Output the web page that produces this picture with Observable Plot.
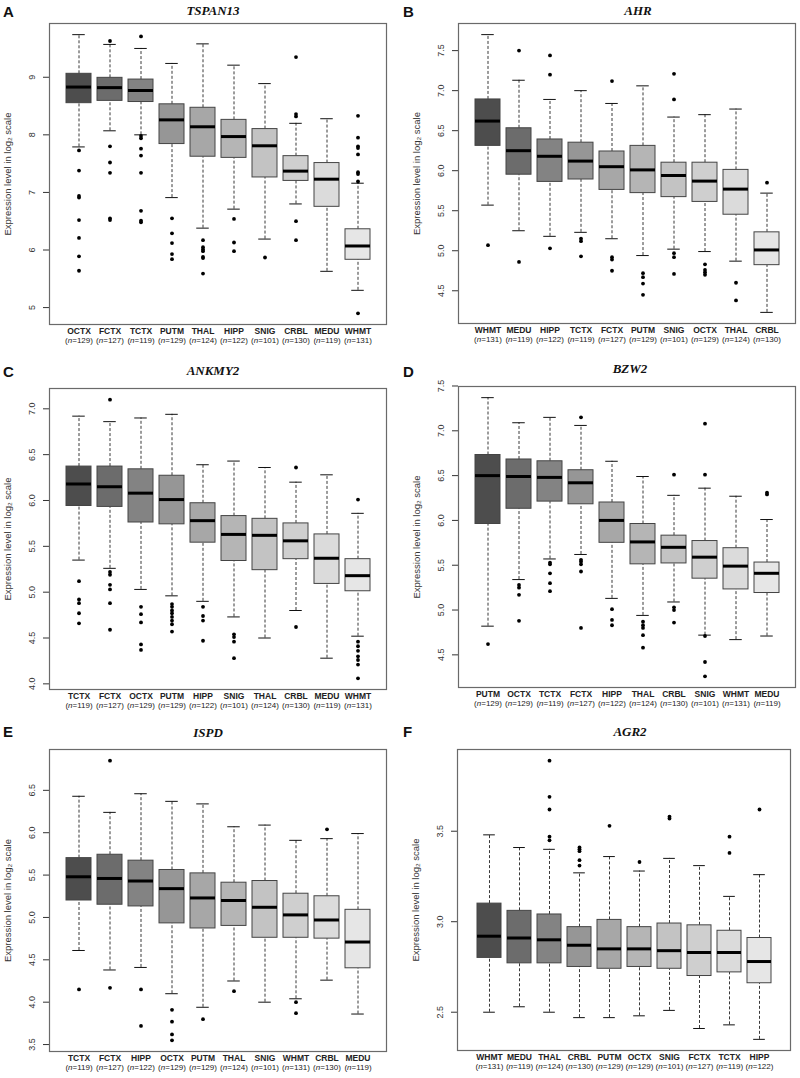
<!DOCTYPE html>
<html>
<head>
<meta charset="utf-8">
<script src="https://cdn.jsdelivr.net/npm/d3@7"></script>
<script src="https://cdn.jsdelivr.net/npm/@observablehq/plot@0.6"></script>
<style>
  html, body { margin: 0; padding: 0; background: #fff; }
  #page { position: relative; width: 800px; height: 1078px; overflow: hidden; font-family: "Liberation Sans", Arial, sans-serif; }
  .panel { position: absolute; }
  .panel svg { position: absolute; left: 0; top: 0; overflow: visible; }
  .letter { position: absolute; font: bold 15px "Liberation Sans", Arial, sans-serif; color: #111; line-height: 1; }
  .title { position: absolute; transform: translateX(-50%); font: italic bold 13px "Liberation Serif", "Times New Roman", serif; color: #111; line-height: 1; white-space: nowrap; }
</style>
</head>
<body>
<div id="page"></div>
<script>
// ---------- data ----------
const nSamples = {OCTX:129, FCTX:127, TCTX:119, PUTM:129, THAL:124, HIPP:122, SNIG:101, CRBL:130, MEDU:119, WHMT:131};
const yLabel = "Expression level in log\u2082 scale";

// A: TSPAN13
const A_order = ["OCTX","FCTX","TCTX","PUTM","THAL","HIPP","SNIG","CRBL","MEDU","WHMT"];
const A_lo  = [7.79, 8.07, 8.00, 6.91, 6.38, 6.71, 6.19, 6.80, 5.63, 5.30];
const A_q1  = [8.55, 8.59, 8.57, 7.84, 7.62, 7.60, 7.26, 7.20, 6.75, 5.83];
const A_med = [8.83, 8.82, 8.77, 8.26, 8.14, 7.97, 7.81, 7.37, 7.23, 6.07];
const A_q3  = [9.06, 8.99, 8.96, 8.53, 8.47, 8.26, 8.10, 7.63, 7.51, 6.36];
const A_hi  = [9.74, 9.57, 9.50, 9.24, 9.58, 9.21, 8.89, 8.20, 8.28, 7.16];
const A_out = [[7.73,7.38,6.94,6.91,6.52,6.21,5.89,5.64],[9.63,7.80,7.52,7.34,6.55,6.52],[9.71,7.98,7.94,7.76,7.64,7.34,6.68,6.51,6.48],[6.55,6.29,6.12,5.93,5.84],[6.17,6.05,6.01,5.98,5.88,5.86,5.59],[6.54,6.13,5.98],[5.87],[9.35,8.36,8.32,6.50,6.17],[],[8.33,7.95,7.80,7.77,7.66,7.35,7.32,7.19,4.90]];
const A_ticks = [5, 6, 7, 8, 9];

// B: AHR
const B_order = ["WHMT","MEDU","HIPP","TCTX","FCTX","PUTM","SNIG","OCTX","THAL","CRBL"];
const B_lo  = [5.57, 5.25, 5.18, 5.23, 5.15, 4.94, 5.02, 4.99, 4.87, 4.23];
const B_q1  = [6.31, 5.95, 5.86, 5.89, 5.76, 5.72, 5.67, 5.61, 5.45, 4.82];
const B_med = [6.62, 6.25, 6.18, 6.12, 6.05, 6.01, 5.94, 5.87, 5.77, 5.01];
const B_q3  = [6.89, 6.53, 6.39, 6.35, 6.24, 6.31, 6.10, 6.10, 6.01, 5.23];
const B_hi  = [7.70, 7.13, 6.89, 7.00, 6.84, 7.06, 6.67, 6.70, 6.77, 5.72];
const B_out = [[5.07],[7.50,4.86],[7.44,7.20,5.03],[5.15,5.12,4.93],[7.12,4.92,4.89,4.75],[4.72,4.67,4.59,4.45],[7.21,6.89,4.97,4.92,4.71],[4.83,4.76,4.73,4.70],[4.60,4.38],[5.85]];
const B_ticks = [4.5, 5.0, 5.5, 6.0, 6.5, 7.0, 7.5];

// C: ANKMY2
const C_order = ["TCTX","FCTX","OCTX","PUTM","HIPP","SNIG","THAL","CRBL","MEDU","WHMT"];
const C_lo  = [5.35, 5.26, 5.03, 4.96, 4.90, 4.73, 4.50, 4.80, 4.28, 4.52];
const C_q1  = [5.94, 5.93, 5.76, 5.74, 5.54, 5.34, 5.24, 5.36, 5.09, 5.01];
const C_med = [6.18, 6.15, 6.08, 6.01, 5.78, 5.63, 5.62, 5.56, 5.37, 5.18];
const C_q3  = [6.37, 6.37, 6.34, 6.27, 5.97, 5.83, 5.80, 5.75, 5.63, 5.36];
const C_hi  = [6.92, 6.86, 6.90, 6.94, 6.39, 6.43, 6.36, 6.20, 6.28, 5.86];
const C_out = [[5.12,4.92,4.88,4.77,4.66],[7.10,5.22,5.19,5.08,5.03,4.88,4.59],[4.84,4.76,4.67,4.43,4.37],[4.87,4.84,4.80,4.77,4.73,4.69,4.65,4.57],[4.84,4.74,4.69,4.47],[4.54,4.51,4.46,4.28],[],[6.36,4.62],[],[6.01,4.46,4.41,4.36,4.30,4.26,4.21,4.06]];
const C_ticks = [4.0, 4.5, 5.0, 5.5, 6.0, 6.5, 7.0];

// D: BZW2
const D_order = ["PUTM","OCTX","TCTX","FCTX","HIPP","THAL","CRBL","SNIG","WHMT","MEDU"];
const D_lo  = [4.82, 5.34, 5.57, 5.62, 5.13, 4.94, 5.09, 4.72, 4.67, 4.71];
const D_q1  = [5.96, 6.13, 6.21, 6.18, 5.75, 5.51, 5.52, 5.35, 5.23, 5.19];
const D_med = [6.50, 6.49, 6.48, 6.42, 6.00, 5.76, 5.70, 5.59, 5.49, 5.41];
const D_q3  = [6.73, 6.68, 6.66, 6.56, 6.20, 5.96, 5.83, 5.77, 5.69, 5.53];
const D_hi  = [7.37, 7.09, 7.15, 7.06, 6.66, 6.49, 6.28, 6.36, 6.27, 6.01];
const D_out = [[4.62],[5.28,5.25,5.17,4.88],[5.53,5.51,5.41,5.30,5.21],[7.15,5.56,5.54,5.51,5.43,4.80],[5.01,4.89,4.83],[4.87,4.83,4.80,4.72,4.58],[6.51,5.03,5.00,4.86],[7.08,6.51,4.71,4.42,4.26],[],[6.31,6.29]];
const D_ticks = [4.5, 5.0, 5.5, 6.0, 6.5, 7.0, 7.5];

// E: ISPD
const E_order = ["TCTX","FCTX","HIPP","OCTX","PUTM","THAL","SNIG","WHMT","CRBL","MEDU"];
const E_lo  = [4.61, 4.38, 4.41, 4.10, 3.94, 4.25, 4.00, 4.04, 4.26, 3.86];
const E_q1  = [5.20, 5.15, 5.13, 4.93, 4.87, 4.90, 4.76, 4.76, 4.75, 4.40];
const E_med = [5.48, 5.46, 5.43, 5.34, 5.23, 5.20, 5.12, 5.03, 4.97, 4.71];
const E_q3  = [5.70, 5.74, 5.67, 5.56, 5.52, 5.41, 5.43, 5.28, 5.25, 5.09];
const E_hi  = [6.43, 6.24, 6.46, 6.37, 6.34, 6.07, 6.09, 5.91, 5.93, 5.99];
const E_out = [[4.15],[6.85,4.17],[4.15,3.72],[3.91,3.77,3.62,3.55],[3.80],[4.13],[],[4.00,3.87],[6.04],[]];
const E_ticks = [3.5, 4.0, 4.5, 5.0, 5.5, 6.0, 6.5];

// F: AGR2
const F_order = ["WHMT","MEDU","THAL","CRBL","PUTM","OCTX","SNIG","FCTX","TCTX","HIPP"];
const F_lo  = [2.50, 2.53, 2.50, 2.47, 2.47, 2.48, 2.51, 2.41, 2.43, 2.35];
const F_q1  = [2.80, 2.77, 2.77, 2.75, 2.74, 2.75, 2.74, 2.70, 2.72, 2.66];
const F_med = [2.92, 2.91, 2.90, 2.87, 2.85, 2.85, 2.84, 2.83, 2.83, 2.78];
const F_q3  = [3.10, 3.06, 3.04, 2.97, 3.01, 2.97, 2.99, 2.98, 2.95, 2.91];
const F_hi  = [3.48, 3.41, 3.40, 3.27, 3.36, 3.28, 3.35, 3.31, 3.14, 3.26];
const F_out = [[],[],[3.89,3.69,3.62,3.47,3.45],[3.41,3.40,3.39,3.34,3.31],[3.53],[3.33],[3.58,3.57],[],[3.47,3.38],[3.62]];
const F_ticks = [2.5, 3.0, 3.5];

// fill palette (dark -> light), same as R grey.colors(10)
const grays = ["#4D4D4D","#6C6C6C","#838383","#969696","#A7A7A7","#B5B5B5","#C3C3C3","#CFCFCF","#DBDBDB","#E6E6E6"];

// ---------- layout ----------
const panels = [
  {letter:"A", gene:"TSPAN13", order:A_order, lo:A_lo, q1:A_q1, med:A_med, q3:A_q3, hi:A_hi, out:A_out, ticks:A_ticks, fmt:d3.format("d"),
   left:0, top:0, w:400, h:360, m:[23,14,36,49], titleX:213, titleY:4},
  {letter:"B", gene:"AHR", order:B_order, lo:B_lo, q1:B_q1, med:B_med, q3:B_q3, hi:B_hi, out:B_out, ticks:B_ticks, fmt:d3.format(".1f"),
   left:400, top:0, w:400, h:360, m:[23,5,37,58], titleX:238, titleY:4},
  {letter:"C", gene:"ANKMY2", order:C_order, lo:C_lo, q1:C_q1, med:C_med, q3:C_q3, hi:C_hi, out:C_out, ticks:C_ticks, fmt:d3.format(".1f"),
   left:0, top:360, w:400, h:360, m:[28,14,31,49], titleX:213, titleY:4},
  {letter:"D", gene:"BZW2", order:D_order, lo:D_lo, q1:D_q1, med:D_med, q3:D_q3, hi:D_hi, out:D_out, ticks:D_ticks, fmt:d3.format(".1f"),
   left:400, top:360, w:400, h:360, m:[26,5,33,58], titleX:230, titleY:2},
  {letter:"E", gene:"ISPD", order:E_order, lo:E_lo, q1:E_q1, med:E_med, q3:E_q3, hi:E_hi, out:E_out, ticks:E_ticks, fmt:d3.format(".1f"),
   left:0, top:720, w:400, h:358, m:[29,14,27,49], titleX:208, titleY:6},
  {letter:"F", gene:"AGR2", order:F_order, lo:F_lo, q1:F_q1, med:F_med, q3:F_q3, hi:F_hi, out:F_out, ticks:F_ticks, fmt:d3.format(".1f"),
   left:400, top:720, w:400, h:358, m:[29,10,28,57], titleX:230, titleY:5}
];

const page = document.getElementById("page");

for (const p of panels) {
  const rows = p.order.map((t, i) => ({tissue: t, lo: p.lo[i], q1: p.q1[i], med: p.med[i], q3: p.q3[i], hi: p.hi[i]}));
  const outs = p.order.flatMap((t, i) => p.out[i].map(v => ({tissue: t, v})));
  const [mn, mx] = d3.extent([...p.lo, ...p.hi, ...outs.map(d => d.v)]);
  const pad = (mx - mn) * 0.04;
  const [mt, mr, mb, ml] = p.m;
  const step = (p.w - ml - mr) / 10.8;
  const capInset = step * 0.8 / 4;

  const chart = Plot.plot({
    width: p.w, height: p.h,
    marginTop: mt, marginRight: mr, marginBottom: mb, marginLeft: ml,
    style: {fontFamily: '"Liberation Sans", Arial, sans-serif', background: "transparent", overflow: "visible"},
    x: {type: "band", domain: p.order, paddingInner: 0.2, paddingOuter: 0.5, axis: null},
    y: {domain: [mn - pad, mx + pad], axis: null},
    color: {type: "ordinal", domain: p.order, range: grays},
    marks: [
      // y ticks (outward)
      Plot.axisY({ticks: p.ticks, tickSize: 6, tickFormat: () => "", label: null, stroke: "#333"}),
      Plot.text(p.ticks, {y: d => d, text: d => p.fmt(d), frameAnchor: "left", dx: -17, rotate: -90, textAnchor: "middle", lineAnchor: "middle", fontSize: 9, fill: "#333"}),
      Plot.text([yLabel], {text: d => d, frameAnchor: "left", dx: -42, rotate: -90, textAnchor: "middle", fontSize: 9.5, fill: "#333"}),
      // whiskers
      Plot.ruleX(rows, {x: "tissue", y1: "lo", y2: "q1", stroke: "#222", strokeWidth: 0.9, strokeDasharray: "3,2"}),
      Plot.ruleX(rows, {x: "tissue", y1: "q3", y2: "hi", stroke: "#222", strokeWidth: 0.9, strokeDasharray: "3,2"}),
      Plot.tickY(rows, {x: "tissue", y: "lo", stroke: "#111", strokeWidth: 1, insetLeft: capInset, insetRight: capInset}),
      Plot.tickY(rows, {x: "tissue", y: "hi", stroke: "#111", strokeWidth: 1, insetLeft: capInset, insetRight: capInset}),
      // boxes
      Plot.barY(rows, {x: "tissue", y1: "q1", y2: "q3", fill: "tissue", stroke: "#444", strokeWidth: 1}),
      Plot.tickY(rows, {x: "tissue", y: "med", stroke: "#000", strokeWidth: 3}),
      // outliers
      Plot.dot(outs, {x: "tissue", y: "v", r: 1.9, fill: "#000", stroke: "none"}),
      // frame
      Plot.frame({stroke: "#6a6a6a", strokeWidth: 1.2}),
      // category labels
      Plot.text(rows, {x: "tissue", text: "tissue", frameAnchor: "bottom", dy: 9, fontSize: 8.5, fontWeight: "bold", fill: "#222"}),
      Plot.text(rows, {x: "tissue", text: d => `(n=${nSamples[d.tissue]})`, frameAnchor: "bottom", dy: 18, fontSize: 8, fill: "#222"})
    ]
  });

  // italicise the "n" in sample-size labels
  chart.querySelectorAll("text").forEach(t => {
    const m = /^\(n=(\d+)\)$/.exec(t.textContent);
    if (m) {
      t.textContent = "";
      const ns = "http://www.w3.org/2000/svg";
      const a = document.createElementNS(ns, "tspan"); a.textContent = "(";
      const b = document.createElementNS(ns, "tspan"); b.textContent = "n"; b.setAttribute("font-style", "italic");
      const c = document.createElementNS(ns, "tspan"); c.textContent = `=${m[1]})`;
      t.append(a, b, c);
    }
  });

  const div = document.createElement("div");
  div.className = "panel";
  div.style.left = p.left + "px"; div.style.top = p.top + "px";
  div.style.width = p.w + "px"; div.style.height = p.h + "px";
  div.appendChild(chart);
  const L = document.createElement("div");
  L.className = "letter"; L.textContent = p.letter;
  L.style.left = "3px"; L.style.top = "4px";
  const T = document.createElement("div");
  T.className = "title"; T.textContent = p.gene;
  T.style.left = p.titleX + "px"; T.style.top = p.titleY + "px";
  div.append(L, T);
  page.appendChild(div);
}
</script>
</body>
</html>
